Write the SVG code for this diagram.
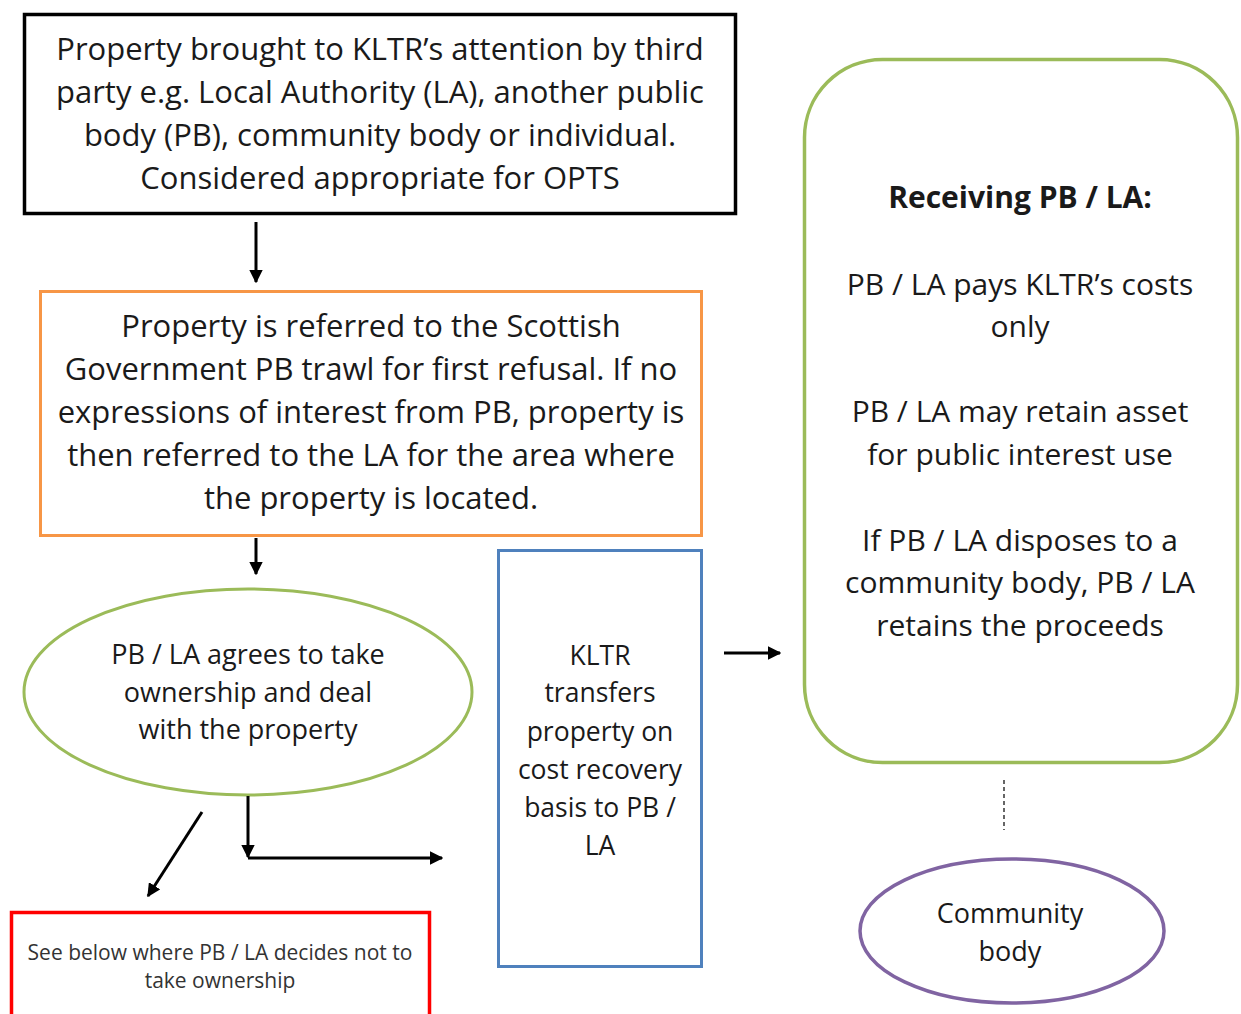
<svg xmlns="http://www.w3.org/2000/svg" width="1241" height="1014" viewBox="0 0 1241 1014">
<style>
text{font-family:"Open Sans","Liberation Sans",Arial,sans-serif;fill:#1a1a1a;text-anchor:middle}
.t31{font-size:31px}
.t30{font-size:30px}
.t27{font-size:27px}
.t26{font-size:26.5px}
.t20{font-size:21px;fill:#333}
.c{stroke:#000;stroke-width:3;fill:none}
</style>
<defs>
<marker id="ah" viewBox="0 0 10 10" refX="9" refY="5" markerWidth="4.5" markerHeight="4.5" orient="auto" markerUnits="strokeWidth">
<path d="M0,0 L10,5 L0,10 z" fill="#000"/>
</marker>
</defs>
<rect width="1241" height="1014" fill="#fff"/>
<g id="n-top">
<rect x="24.5" y="14.5" width="711" height="199" fill="#fff" stroke="#000" stroke-width="3.5"/>
<text class="t31" x="380" y="60">Property brought to KLTR’s attention by third</text>
<text class="t31" x="380" y="103">party e.g. Local Authority (LA), another public</text>
<text class="t31" x="380" y="146">body (PB), community body or individual.</text>
<text class="t31" x="380" y="189">Considered appropriate for OPTS</text>
</g>
<g id="n-referred">
<rect x="40.5" y="291.5" width="661" height="244" fill="#fff" stroke="#F79646" stroke-width="3"/>
<text class="t31" x="371" y="337">Property is referred to the Scottish</text>
<text class="t31" x="371" y="380">Government PB trawl for first refusal. If no</text>
<text class="t31" x="371" y="423">expressions of interest from PB, property is</text>
<text class="t31" x="371" y="466">then referred to the LA for the area where</text>
<text class="t31" x="371" y="509">the property is located.</text>
</g>
<g id="n-agrees">
<ellipse cx="248" cy="692" rx="224" ry="103" fill="#fff" stroke="#9BBB59" stroke-width="3"/>
<text class="t27" x="248" y="664">PB / LA agrees to take</text>
<text class="t27" x="248" y="702">ownership and deal</text>
<text class="t27" x="248" y="739">with the property</text>
</g>
<g id="n-transfer">
<rect x="498.5" y="550.5" width="203" height="416" fill="#fff" stroke="#4F81BD" stroke-width="3"/>
<text class="t26" x="600" y="665">KLTR</text>
<text class="t26" x="600" y="702">transfers</text>
<text class="t26" x="600" y="741">property on</text>
<text class="t26" x="600" y="779">cost recovery</text>
<text class="t26" x="600" y="817">basis to PB /</text>
<text class="t26" x="600" y="855">LA</text>
</g>
<g id="n-receiving">
<rect x="804.5" y="59.5" width="433" height="703" rx="78" ry="78" fill="#fff" stroke="#9BBB59" stroke-width="3.5"/>
<text class="t30" x="1020" y="208" font-weight="bold">Receiving PB / LA:</text>
<text class="t30" x="1020" y="295">PB / LA pays KLTR’s costs</text>
<text class="t30" x="1020" y="337">only</text>
<text class="t30" x="1020" y="422">PB / LA may retain asset</text>
<text class="t30" x="1020" y="465">for public interest use</text>
<text class="t30" x="1020" y="551">If PB / LA disposes to a</text>
<text class="t30" x="1020" y="593">community body, PB / LA</text>
<text class="t30" x="1020" y="636">retains the proceeds</text>
</g>
<g id="n-community">
<ellipse cx="1012" cy="931" rx="152" ry="72" fill="#fff" stroke="#8064A2" stroke-width="3.5"/>
<text class="t27" x="1010" y="923">Community</text>
<text class="t27" x="1010" y="961">body</text>
</g>
<g id="n-seebelow">
<rect x="11.5" y="912.5" width="418" height="120" fill="#fff" stroke="#FF0000" stroke-width="3.5"/>
<text class="t20" x="220" y="960">See below where PB / LA decides not to</text>
<text class="t20" x="220" y="988">take ownership</text>
</g>
<g id="connectors">
<line class="c" x1="256" y1="222" x2="256" y2="282" marker-end="url(#ah)"/>
<line class="c" x1="256" y1="538" x2="256" y2="574" marker-end="url(#ah)"/>
<line class="c" x1="202" y1="812" x2="148" y2="896" marker-end="url(#ah)"/>
<line class="c" x1="248" y1="796" x2="248" y2="857" marker-end="url(#ah)"/>
<line class="c" x1="248" y1="858" x2="442" y2="858" marker-end="url(#ah)"/>
<line class="c" x1="724" y1="653" x2="780" y2="653" marker-end="url(#ah)"/>
<line x1="1004" y1="780" x2="1004" y2="830" stroke="#000" stroke-width="1.2" stroke-dasharray="4,3"/>
</g>
</svg>
